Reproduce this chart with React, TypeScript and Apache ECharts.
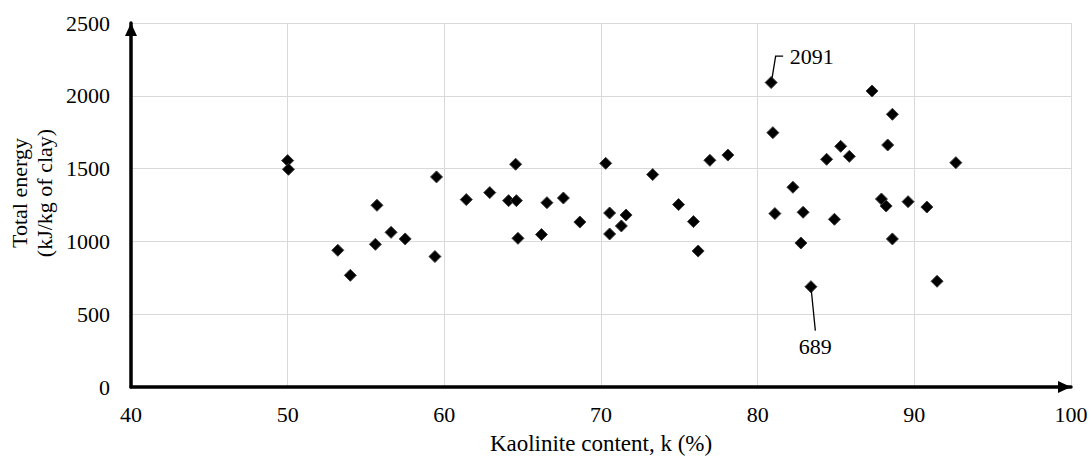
import { useEffect, useRef } from 'react';
import * as echarts from 'echarts';

// Kaolinite content, k (%)
const kaolinite = [
  50.0, 50.05, 53.2, 54.0, 55.7, 55.6, 56.6, 57.5, 59.5, 59.4,
  61.4, 62.9, 64.1, 64.6, 64.55, 64.7, 66.2, 66.55, 67.6, 68.65,
  70.3, 70.55, 71.6, 71.3, 70.55, 73.3, 74.95, 75.9, 76.2, 76.95,
  78.1, 80.86, 80.97, 81.1, 82.25, 82.9, 82.76, 83.4, 84.4, 84.9,
  85.3, 85.85, 87.3, 87.9, 88.2, 88.3, 88.6, 88.6, 89.6, 90.8,
  91.45, 92.65,
];
// Total energy (kJ/kg of clay)
const totalEnergy = [
  1555, 1495, 939, 767, 1248, 980, 1062, 1017, 1443, 896,
  1287, 1335, 1280, 1280, 1530, 1021, 1047, 1266, 1298, 1133,
  1536, 1195, 1181, 1106, 1051, 1459, 1253, 1136, 934, 1557,
  1593, 2091, 1747, 1191, 1372, 1200, 989, 689, 1564, 1152,
  1653, 1584, 2033, 1291, 1243, 1662, 1873, 1017, 1273, 1236,
  726, 1541,
];
const xMin = 40;
const xMax = 100;
const xStep = 10;
const yMin = 0;
const yMax = 2500;
const yStep = 500;
const highCallout = 2091;
const lowCallout = 689;
const xTitle = 'Kaolinite content, k (%)';
const yTitle = 'Total energy\n(kJ/kg of clay)';

const FONT = 'Liberation Serif';

export default function App() {
  const ref = useRef<HTMLDivElement>(null);
  useEffect(() => {
    const chart = echarts.init(ref.current!, null, { renderer: 'svg' });
    const data = kaolinite.map((k, i) => [k, totalEnergy[i]]);
    const axisLine = (len: number) => ({
      onZero: false,
      lineStyle: { color: '#000', width: 3.5 },
      symbol: ['none', 'triangle'],
      symbolSize: [12, len],
      symbolOffset: [0, -len / 2],
    });
    chart.setOption({
      animation: false,
      grid: { left: 131, right: 20, top: 23, bottom: 70, containLabel: false, outerBoundsMode: 'none' },
      xAxis: {
        type: 'value',
        min: xMin,
        max: xMax,
        interval: xStep,
        name: xTitle,
        nameLocation: 'middle',
        nameGap: 45,
        nameTextStyle: { fontFamily: FONT, fontSize: 23, color: '#000' },
        axisLine: axisLine(13),
        axisTick: { show: false },
        axisLabel: { margin: 16, fontFamily: FONT, fontSize: 22, color: '#000', formatter: (v: number) => String(v) },
        splitLine: { show: true, lineStyle: { color: '#d9d9d9', width: 1 } },
      },
      yAxis: {
        type: 'value',
        min: yMin,
        max: yMax,
        interval: yStep,
        axisLine: axisLine(13),
        axisTick: { show: false },
        axisLabel: { margin: 21, fontFamily: FONT, fontSize: 22, color: '#000', formatter: (v: number) => String(v) },
        splitLine: { show: true, lineStyle: { color: '#d9d9d9', width: 1 } },
      },
      series: [
        {
          type: 'scatter',
          data,
          symbol: 'diamond',
          symbolSize: 12,
          itemStyle: { color: '#000', borderColor: '#3a3a3a', borderWidth: 1, opacity: 1 },
          z: 5,
        },
      ],
    });

    const iHigh = totalEnergy.indexOf(highCallout);
    const iLow = totalEnergy.indexOf(lowCallout);
    const pH = chart.convertToPixel({ gridIndex: 0 }, [kaolinite[iHigh], totalEnergy[iHigh]]) as number[];
    const pL = chart.convertToPixel({ gridIndex: 0 }, [kaolinite[iLow], totalEnergy[iLow]]) as number[];
    const textStyle = { fontFamily: FONT, fontSize: 22, fill: '#000' };
    chart.setOption({
      graphic: [
        {
          type: 'polyline',
          shape: {
            points: [
              [pH[0] + 1, pH[1] - 5],
              [pH[0] + 4.5, pH[1] - 26.5],
              [pH[0] + 12, pH[1] - 26.5],
            ],
          },
          style: { stroke: '#000', lineWidth: 1.3, fill: null },
          z: 10,
        },
        {
          type: 'text',
          x: pH[0] + 18.5,
          y: pH[1] - 26,
          style: { ...textStyle, text: String(highCallout), align: 'left', verticalAlign: 'middle', textAlign: 'left', textVerticalAlign: 'middle' },
          z: 10,
        },
        {
          type: 'polyline',
          shape: {
            points: [
              [pL[0] + 0.4, pL[1] + 4],
              [pL[0] + 4.4, pL[1] + 44],
            ],
          },
          style: { stroke: '#000', lineWidth: 1.3, fill: null },
          z: 10,
        },
        {
          type: 'text',
          x: pL[0] + 4.4,
          y: pL[1] + 60,
          style: { ...textStyle, text: String(lowCallout), align: 'center', verticalAlign: 'middle', textAlign: 'center', textVerticalAlign: 'middle' },
          z: 10,
        },
        {
          type: 'text',
          x: 32,
          y: 193,
          rotation: Math.PI / 2,
          style: { ...textStyle, text: yTitle, lineHeight: 25, align: 'center', verticalAlign: 'middle', textAlign: 'center', textVerticalAlign: 'middle' },
          z: 10,
        },
      ],
    });
    return () => chart.dispose();
  }, []);
  return (
    <div
      ref={ref}
      style={{ position: 'fixed', left: 0, top: 0, width: 1091, height: 457, background: '#fff' }}
    />
  );
}
